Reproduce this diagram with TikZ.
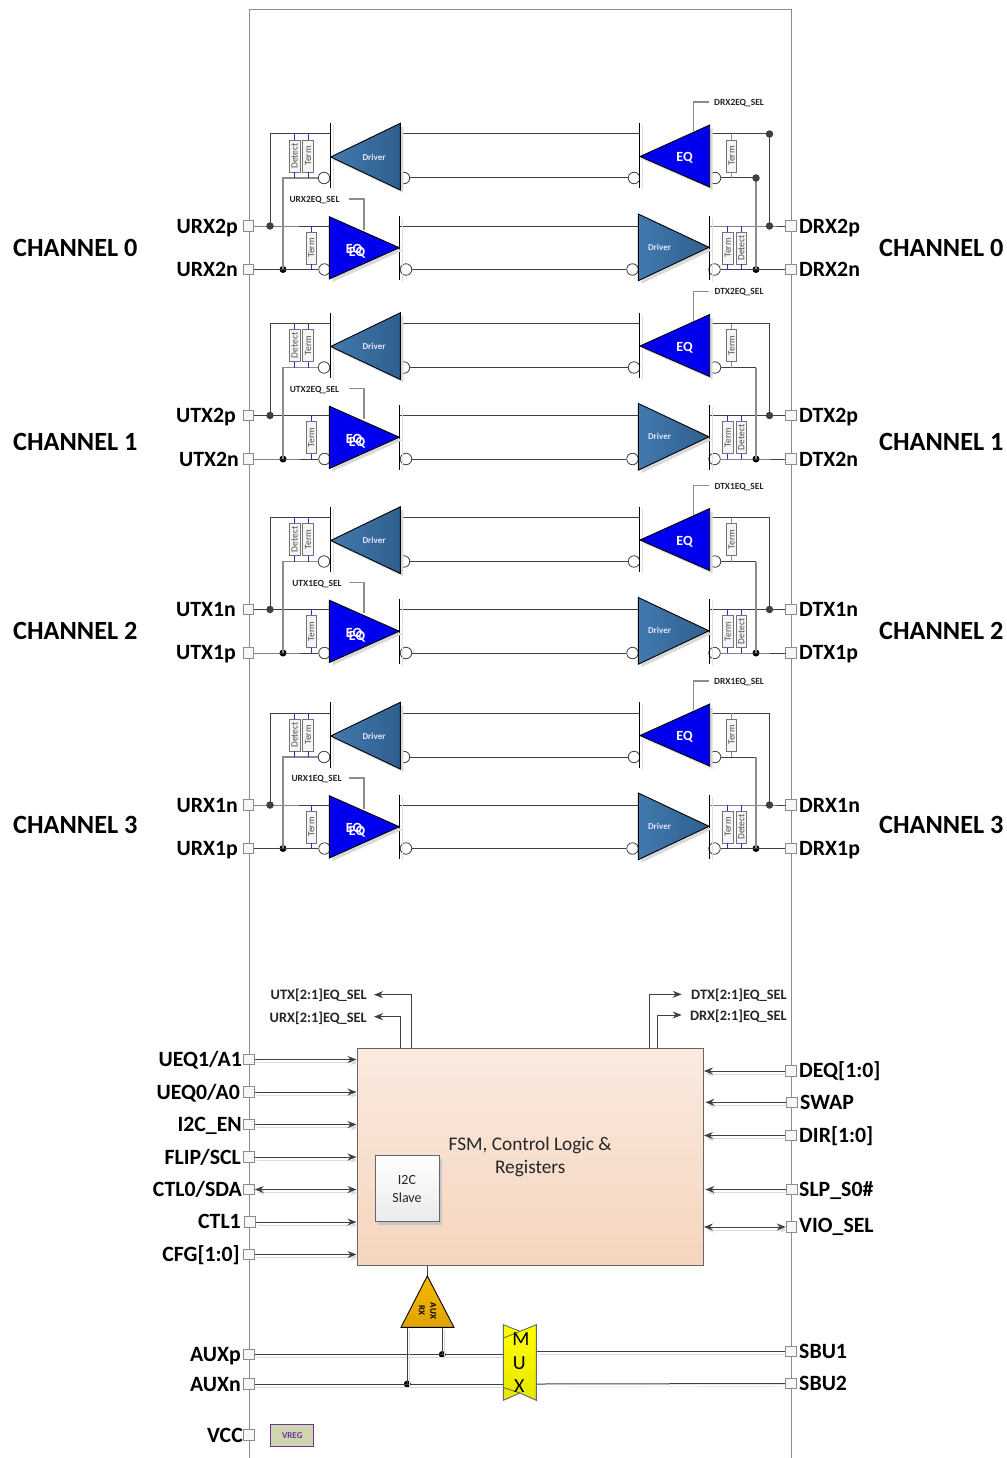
\documentclass[tikz,border=0pt]{standalone}
\usepackage{xcolor}
\usepackage{fontspec}
\setmainfont{Carlito}
\usepackage{tikz}
\usetikzlibrary{arrows.meta,shadows}

\definecolor{wirecol}{HTML}{404040}
\definecolor{framecol}{HTML}{8C8C8C}
\definecolor{stubcol}{HTML}{2A2AD8}
\definecolor{driverA}{HTML}{4279AE}
\definecolor{driverB}{HTML}{2F5F8E}
\definecolor{eqblue}{HTML}{0000EE}
\definecolor{fsmtop}{HTML}{FAEADF}
\definecolor{fsmbot}{HTML}{F5D5BE}
\definecolor{auxtop}{HTML}{F7B900}
\definecolor{auxbot}{HTML}{E0A300}
\definecolor{vregfill}{HTML}{CFD6AE}
\definecolor{vregline}{HTML}{7030A0}

\tikzset{
  >={Stealth[length=9pt,width=7pt]},
  pad/.style={draw=framecol,fill=black!3,minimum size=10.5pt,inner sep=0pt,line width=0.9pt},
  dotgray/.style={circle,fill=wirecol,minimum size=7.5pt,inner sep=0pt},
  dotblack/.style={circle,fill=black,minimum size=7pt,inner sep=0pt},
  bubble/.style={circle,draw=wirecol,fill=white,minimum size=11.5pt,inner sep=0pt,line width=0.8pt},
  wire/.style={draw=wirecol,line width=1pt},
  wiregray/.style={draw=framecol,line width=1.3pt},
  stub/.style={draw=stubcol,line width=0.9pt},
  stubgray/.style={draw=framecol,line width=0.9pt},
  bar/.style={draw=black,line width=1pt,preaction={draw=black!12,transform canvas={shift={(3pt,-2pt)}}}},
  sig/.style={wire,preaction={draw=black!14,transform canvas={shift={(2pt,-3pt)}}}},
  res/.style={draw=black!55,fill=black!4,minimum width=32pt,minimum height=10.5pt,inner sep=0pt,line width=0.8pt,
    text=black!70,font=\fontsize{9.5}{10}\selectfont},
  tridriver/.style={draw=black,line width=0.9pt,left color=driverA,right color=driverB,
    drop shadow={shadow xshift=3pt,shadow yshift=-3pt,fill=black!15,opacity=1}},
  trieq/.style={draw=black,line width=0.9pt,fill=eqblue,
    drop shadow={shadow xshift=3pt,shadow yshift=-3pt,fill=black!15,opacity=1}},
  drvtext/.style={text=white!90!blue,font=\bfseries\fontsize{9}{10}\selectfont},
  eqtext/.style={text=white,font=\bfseries\fontsize{14}{15}\selectfont},
  sellabel/.style={text=black!85,yshift=-1pt,font=\bfseries\fontsize{9.4}{10}\selectfont},
  buslabel/.style={text=black!85,anchor=east,inner sep=0pt,yshift=-1pt,font=\bfseries\fontsize{14.4}{16}\selectfont},
  pinleft/.style={anchor=east,inner sep=0pt,text height=17pt,text depth=1.6pt,font=\bfseries\fontsize{21.8}{24}\selectfont},
  pinright/.style={anchor=west,inner sep=0pt,text height=17pt,text depth=1.6pt,font=\bfseries\fontsize{21.8}{24}\selectfont},
  chlabel/.style={anchor=west,inner sep=0pt,text height=17pt,text depth=1pt,font=\bfseries\fontsize{26.3}{28}\selectfont},
}

\newcommand{\channelrow}[2]{%
\begin{scope}[yshift=-#2pt]
\node[pad] (lp#1) at (248.5,226) {};
\node[pad] (ln#1) at (248.5,269.5) {};
\node[pad] (rp#1) at (791,226) {};
\node[pad] (rn#1) at (791,269.5) {};
\node[dotgray] (ld#1) at (270,226) {};
\node[dotblack] (lk#1) at (283,269.5) {};
\node[dotgray] (rd#1) at (769.5,226) {};
\node[dotblack] (rk#1) at (756,269.5) {};
\node[bubble] (ba#1) at (324,178) {};
\node[bubble] (bb#1) at (404,178) {};
\node[bubble] (bc#1) at (634,178) {};
\node[bubble] (bd#1) at (715,178) {};
\node[bubble] (be#1) at (324.5,269.5) {};
\node[bubble] (bf#1) at (406,269.5) {};
\node[bubble] (bg#1) at (632.5,269.5) {};
\node[bubble] (bh#1) at (714.5,269.5) {};
\coordinate (tl#1) at (330,134);
\coordinate (tm#1) at (400,134);
\coordinate (tn#1) at (639.5,134);
\coordinate (tr#1) at (709,134);
\coordinate (ml#1) at (329,226);
\coordinate (mm#1) at (400,226);
\coordinate (mn#1) at (638,226);
\coordinate (mr#1) at (709,226);
\coordinate (sl#1) at (349,199);
\coordinate (sm#1) at (364,229.5);
\coordinate (sn#1) at (709,102);
\coordinate (so#1) at (693.5,131);
% wires
\draw [wire] (lp#1.east) -- (ld#1.center) -- (ml#1);
\draw [wire] (ld#1.center) |- (tl#1);
\draw [wire] (tm#1) -- (tn#1);
\draw [wiregray] (lk#1.center) |- (ba#1.west);
\draw [wire] (ln#1.east) -- (lk#1.center) -- (be#1.west);
\draw [wire] (bb#1.east) -- (bc#1.west);
\draw [wire] (mm#1) -- (mn#1);
\draw [wire] (bf#1.east) -- (bg#1.west);
\draw [wire] (mr#1) -- (rd#1.center) -- (rp#1.west);
\draw [wire] (rd#1.center) |- (tr#1);
\draw [wire] (bd#1.east) -- (bd#1.east -| rk#1);
\draw [wiregray] (rk#1.center) -- (bd#1.east -| rk#1);
\draw [wire] (bh#1.east) -- (rk#1.center) -- (rn#1.west);
\draw [wiregray] (sl#1) -| (sm#1);
\draw [wiregray] (sn#1) -| (so#1);
% detect and term parts
\node[res,rotate=90] (dl#1) at (294.7,156) {Detect};
\node[res,rotate=90] (tt#1) at (308,156) {Term};
\node[res,rotate=90] (tb#1) at (311.3,248) {Term};
\node[res,rotate=90] (te#1) at (731.5,156) {Term};
\node[res,rotate=90] (tf#1) at (727.8,248) {Term};
\node[res,rotate=90] (dr#1) at (741.4,248) {Detect};
\draw [stub] (dl#1.east) -- (dl#1.east |- tl#1);
\draw [stub] (dl#1.west) -- (dl#1.west |- ba#1);
\draw [stub] (tt#1.east) -- (tt#1.east |- tl#1);
\draw [stub] (tt#1.west) -- (tt#1.west |- ba#1);
\draw [stub] (tb#1.east) -- (tb#1.east |- ml#1);
\draw [stub] (tb#1.west) -- (tb#1.west |- be#1);
\draw [stubgray] (te#1.east) -- (te#1.east |- tr#1);
\draw [stubgray] (te#1.west) -- (te#1.west |- bd#1);
\draw [stub] (tf#1.east) -- (tf#1.east |- mr#1);
\draw [stub] (tf#1.west) -- (tf#1.west |- bh#1);
\draw [stub] (dr#1.east) -- (dr#1.east |- mr#1);
\draw [stub] (dr#1.west) -- (dr#1.west |- bh#1);
% bars and amplifiers
\draw [bar] (330,123) -- (330,188.5);
\draw [bar] (639.5,123) -- (639.5,188.5);
\draw [bar] (399.5,215.7) -- (399.5,280);
\draw [bar] (709,215.7) -- (709,280);
\draw [tridriver] (330.7,157) -- (400.3,123.3) -- (400.3,190) -- cycle;
\draw [trieq] (640,156.5) -- (709.7,125) -- (709.7,187) -- cycle;
\draw [trieq] (329.3,216.7) -- (399.3,247.7) -- (329.3,279) -- cycle;
\draw [tridriver] (638.3,214) -- (709,247.3) -- (638.3,280.7) -- cycle;
\node[drvtext] (dt#1) at (374,157) {Driver};
\node[drvtext] (dv#1) at (659.5,247) {Driver};
\node[eqtext] (ea#1) at (684.5,158) {EQ};
\node[eqtext] (eb#1) at (354,250) {EQ};
\node[eqtext] (ec#1) at (357,253) {EQ};
\end{scope}}

\begin{document}
\begin{tikzpicture}[x=1pt,y=-1pt]
\useasboundingbox (0,0) rectangle (1006,1458);

\draw [draw=framecol,line width=1pt] (249,1458) -- (249,10) -- (791,10) -- (791,1458);

\channelrow{a}{0}
\channelrow{b}{189.5}
\channelrow{c}{383.5}
\channelrow{d}{579}

% extra joints of the first channel
\node[dotgray] (topdot) at (769.5,134) {};
\node[dotgray] (subdot) at (756,178) {};

\node[pinleft] (urxtwop) at (238,226) {URX2p};
\node[pinleft] (urxtwon) at (238,269) {URX2n};
\node[pinleft] (utxtwop) at (236,415) {UTX2p};
\node[pinleft] (utxtwon) at (239,459) {UTX2n};
\node[pinleft] (utxonen) at (236,609) {UTX1n};
\node[pinleft] (utxonep) at (236,652) {UTX1p};
\node[pinleft] (urxonen) at (238,805) {URX1n};
\node[pinleft] (urxonep) at (238,848) {URX1p};
\node[pinright] (drxtwop) at (799,226) {DRX2p};
\node[pinright] (drxtwon) at (799,269) {DRX2n};
\node[pinright] (dtxtwop) at (799,415) {DTX2p};
\node[pinright] (dtxtwon) at (799,459) {DTX2n};
\node[pinright] (dtxonen) at (799,609) {DTX1n};
\node[pinright] (dtxonep) at (799,652) {DTX1p};
\node[pinright] (drxonen) at (799,805) {DRX1n};
\node[pinright] (drxonep) at (799,848) {DRX1p};

\node[chlabel] (chza) at (13,248) {CHANNEL 0};
\node[chlabel] (chzb) at (879,248) {CHANNEL 0};
\node[chlabel] (chaa) at (13,442) {CHANNEL 1};
\node[chlabel] (chab) at (879,442) {CHANNEL 1};
\node[chlabel] (chba) at (13,631) {CHANNEL 2};
\node[chlabel] (chbb) at (879,631) {CHANNEL 2};
\node[chlabel] (chca) at (13,825) {CHANNEL 3};
\node[chlabel] (chcb) at (879,825) {CHANNEL 3};

\node[sellabel] (selurxtwo) at (314.5,199.5) {URX2EQ\_SEL};
\node[sellabel] (selutxtwo) at (314.5,389.5) {UTX2EQ\_SEL};
\node[sellabel] (selutxone) at (317,583.5) {UTX1EQ\_SEL};
\node[sellabel] (selurxone) at (316.5,778.5) {URX1EQ\_SEL};
\node[sellabel] (seldrxtwo) at (739,102.5) {DRX2EQ\_SEL};
\node[sellabel] (seldtxtwo) at (739,291.5) {DTX2EQ\_SEL};
\node[sellabel] (seldtxone) at (739,486.5) {DTX1EQ\_SEL};
\node[sellabel] (seldrxone) at (739,681.5) {DRX1EQ\_SEL};

% control block
\node[draw=black!60,line width=0.9pt,top color=fsmtop,bottom color=fsmbot,
  minimum width=346.5pt,minimum height=216.7pt,inner sep=0pt,align=center,text=black!85,
  font=\fontsize{19.3}{23}\selectfont] (fsm) at (530.2,1156.7) {FSM, Control Logic \&\\Registers};
\node[draw=black!60,line width=0.9pt,top color=white,bottom color=black!8,
  drop shadow={shadow xshift=3pt,shadow yshift=-3pt,fill=black!22,opacity=1},
  minimum width=64pt,minimum height=66pt,inner sep=0pt,align=center,text=black!85,
  font=\fontsize{14}{18}\selectfont] (slave) at (407,1188.7) {I2C\\Slave};

\node[pad] (pueqa) at (249,1059.5) {};
\node[pad] (pueqb) at (249,1092) {};
\node[pad] (pien) at (249,1124.5) {};
\node[pad] (pflip) at (249,1157) {};
\node[pad] (pctlo) at (249,1189.5) {};
\node[pad] (pctla) at (250,1222) {};
\node[pad] (pcfg) at (249,1254.5) {};
\node[pad] (pdeq) at (791,1071) {};
\node[pad] (pswap) at (791.7,1102.3) {};
\node[pad] (pdir) at (791,1135.5) {};
\node[pad] (pslp) at (792,1189.5) {};
\node[pad] (pvio) at (791.5,1227) {};

\draw [sig,->] (pueqa.east) -- (pueqa.east -| fsm.west);
\draw [sig,->] (pueqb.east) -- (pueqb.east -| fsm.west);
\draw [sig,->] (pien.east) -- (pien.east -| fsm.west);
\draw [sig,->] (pflip.east) -- (pflip.east -| fsm.west);
\draw [sig,<->] (pctlo.east) -- (pctlo.east -| fsm.west);
\draw [sig,->] (pctla.east) -- (pctla.east -| fsm.west);
\draw [sig,->] (pcfg.east) -- (pcfg.east -| fsm.west);
\draw [sig,->] (pdeq.west) -- (pdeq.west -| fsm.east);
\draw [sig,->] (pswap.west) -- ([xshift=1.5pt]pswap.west -| fsm.east);
\draw [sig,->] (pdir.west) -- (pdir.west -| fsm.east);
\draw [sig,->] (pslp.west) -- ([xshift=1.5pt]pslp.west -| fsm.east);
\draw [sig,<->] (pvio.west) -- (pvio.west -| fsm.east);

\node[pinleft] (lueqa) at (242,1059) {UEQ1/A1};
\node[pinleft] (lueqb) at (240,1092) {UEQ0/A0};
\node[pinleft] (lien) at (242,1124) {I2C\_EN};
\node[pinleft] (lflip) at (241,1157) {FLIP/SCL};
\node[pinleft] (lctlo) at (242,1189) {CTL0/SDA};
\node[pinleft] (lctla) at (241,1221) {CTL1};
\node[pinleft] (lcfg) at (240,1254) {CFG[1:0]};
\node[pinright] (ldeq) at (799,1070) {DEQ[1:0]};
\node[pinright] (lswap) at (800,1102) {SWAP};
\node[pinright] (ldir) at (799,1135) {DIR[1:0]};
\node[pinright] (lslp) at (799,1189) {SLP\_S0\#};
\node[pinright] (lvio) at (799,1225) {VIO\_SEL};

\node[buslabel] (lutxbus) at (367,994.7) {UTX[2:1]EQ\_SEL};
\node[buslabel] (lurxbus) at (367,1017) {URX[2:1]EQ\_SEL};
\node[buslabel] (ldtxbus) at (787,994) {DTX[2:1]EQ\_SEL};
\node[buslabel] (ldrxbus) at (787,1015) {DRX[2:1]EQ\_SEL};
\coordinate (tutx) at (374,994.7);
\coordinate (turx) at (374,1016.7);
\coordinate (tdtx) at (681.7,994.3);
\coordinate (tdrx) at (681.7,1015);
\coordinate (sutx) at (411,1048.3);
\coordinate (surx) at (400.3,1048.3);
\coordinate (sdtx) at (649,1048.3);
\coordinate (sdrx) at (657,1048.3);
\draw [wire,->] (sutx) |- (tutx);
\draw [wire,->] (surx) |- (turx);
\draw [wire,->] (sdtx) |- (tdtx);
\draw [wire,->] (sdrx) |- (tdrx);

% aux part
\node[pad] (pauxp) at (249,1354.5) {};
\node[pad] (pauxn) at (249,1384) {};
\node[pad] (pvcc) at (249,1435) {};
\node[pad] (psbua) at (791,1351.5) {};
\node[pad] (psbub) at (791,1383.5) {};
\node[dotblack] (dauxp) at (442.3,1354.5) {};
\node[dotblack] (dauxn) at (407.3,1384) {};
\coordinate (apex) at (427.3,1276);
\coordinate (lega) at (442.3,1327.3);
\coordinate (legb) at (407.3,1327.3);
\coordinate (muxpa) at (503.3,1354.5);
\coordinate (muxna) at (503.3,1384);
\coordinate (muxpb) at (536.3,1351.5);
\coordinate (muxnb) at (536.3,1384);

\draw [sig] (pauxp.east) -- (muxpa);
\draw [sig] (pauxn.east) -- (muxna);
\draw [sig] (lega) -- (dauxp.center);
\draw [sig] (legb) -- (dauxn.center);
\draw [sig] (muxpb) -- (psbua.west);
\draw [sig] (muxnb) -- (psbub.west);
\draw [wire] (fsm.south -| apex) -- (apex);

\draw [draw=black,line width=0.9pt,top color=auxtop,bottom color=auxbot]
  (427.3,1276) -- (454,1327.3) -- (401,1327.3) -- cycle;
\node[rotate=-90,inner sep=0pt,font=\bfseries\fontsize{9}{10}\selectfont] (auxtext) at (433.3,1311) {AUX};
\node[rotate=-90,inner sep=0pt,font=\bfseries\fontsize{9}{10}\selectfont] (rxtext) at (421.7,1310) {RX};

\draw [draw=black!60,line width=0.9pt,top color=yellow,bottom color=yellow!90!black]
  (503.3,1324.7) -- (520,1331.3) -- (536.3,1324.7) -- (536.3,1400.3) -- (520,1393) -- (503.3,1400.3) -- cycle;
\draw [draw=black!60,line width=0.8pt] (503.3,1338) -- (520,1331.3);
\draw [draw=black!60,line width=0.8pt] (503.3,1387.5) -- (520,1393);
\node[inner sep=0pt,font=\fontsize{20}{22}\selectfont] (muxm) at (521,1339) {M};
\node[inner sep=0pt,font=\fontsize{20}{22}\selectfont] (muxu) at (519.3,1362.7) {U};
\node[inner sep=0pt,font=\fontsize{20}{22}\selectfont] (muxx) at (519.3,1386) {X};

\node[draw=vregline,line width=1pt,fill=vregfill,minimum width=43pt,minimum height=21.5pt,
  inner sep=0pt,text=vregline,font=\bfseries\fontsize{9}{10}\selectfont] (vreg) at (292.3,1435.5) {VREG};

\node[pinleft] (lauxp) at (241,1354) {AUXp};
\node[pinleft] (lauxn) at (241,1384) {AUXn};
\node[pinleft] (lvcc) at (243,1435) {VCC};
\node[pinright] (lsbua) at (799,1351) {SBU1};
\node[pinright] (lsbub) at (799,1383) {SBU2};
\end{tikzpicture}
\end{document}
